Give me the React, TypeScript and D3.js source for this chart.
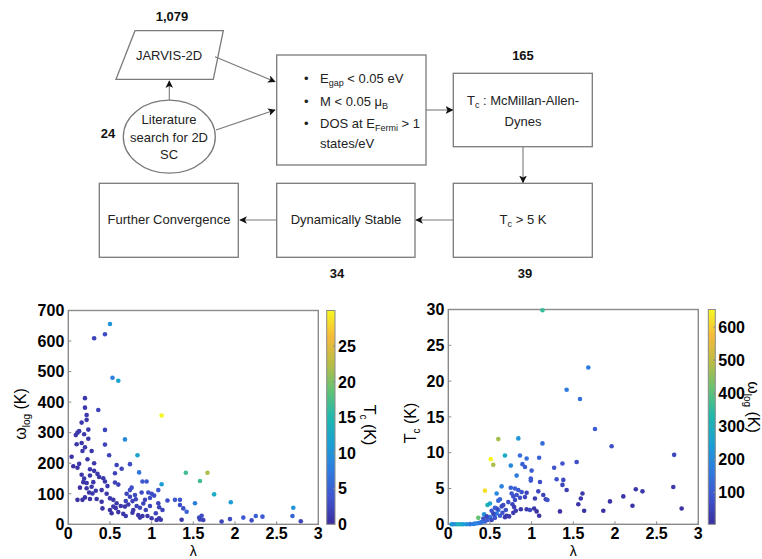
import React from 'react';
import * as d3 from 'd3';

// left panel: lambda vs omega_log, coloured by Tc
const lamA = [0.31, 0.44, 0.50, 0.53, 0.60, 0.20, 0.20, 0.36, 0.22, 1.12,
  0.22, 0.16, 0.11, 0.13, 0.09, 0.19, 0.24, 0.44, 0.68, 0.10,
  0.16, 0.20, 0.44, 0.83, 0.04, 0.17, 0.23, 0.49, 0.13, 0.31,
  0.58, 0.64, 0.74, 0.11, 0.26, 0.31, 0.16, 0.19, 0.26, 0.35,
  0.37, 0.56, 0.85, 1.41, 0.18, 0.22, 0.30, 0.42, 0.44, 0.56,
  0.89, 0.94, 1.12, 0.22, 0.28, 0.33, 0.40, 0.25, 0.29, 0.74,
  0.80, 0.88, 0.96, 1.08, 0.11, 0.17, 0.20, 0.26, 0.34, 0.40,
  0.54, 0.58, 0.69, 0.74, 0.77, 0.81, 0.90, 0.98, 1.03, 1.28,
  1.34, 0.41, 0.50, 0.54, 0.57, 0.68, 0.78, 0.86, 0.93, 1.09,
  1.13, 1.34, 1.38, 0.52, 0.66, 0.69, 0.77, 0.89, 0.95, 1.05,
  1.09, 1.11, 1.36, 0.86, 1.67, 1.58, 1.75, 1.95, 1.52, 1.42,
  1.57, 1.60, 1.62, 1.58, 1.84, 1.94, 2.10, 2.20, 2.25, 2.33,
  2.70, 2.69, 2.79, 1.19, 1.08, 1.06, 1.00, 0.47, 0.60, 0.63,
  0.72, 0.82, 0.84, 0.70, 0.76, 0.60, 0.46, 0.50, 0.14, 0.06,
  0.28, 0.24, 0.98, 1.00, 0.92];
const omegaA = [609, 622, 656, 480, 470, 413, 382, 374, 358, 356,
  342, 333, 300, 305, 292, 295, 280, 309, 278, 262,
  266, 252, 261, 226, 221, 240, 213, 226, 198, 200,
  194, 182, 197, 185, 180, 175, 162, 150, 160, 165,
  155, 167, 170, 169, 138, 135, 138, 151, 140, 137,
  140, 140, 131, 118, 123, 110, 112, 104, 101, 112,
  96, 104, 104, 112, 80, 80, 88, 83, 83, 74,
  80, 69, 76, 90, 76, 82, 68, 86, 94, 80,
  80, 52, 47, 58, 53, 58, 47, 54, 47, 56,
  47, 63, 52, 36, 34, 27, 38, 27, 27, 36,
  20, 15, 15, 22, 169, 142, 98, 72, 69, 41,
  22, 28, 14, 16, 9, 17, 22, 13, 27, 25,
  54, 27, 10, 78, 69, 14, 100, 125, 40, 60,
  65, 60, 30, 100, 120, 130, 100, 85, 120, 190,
  240, 310, 60, 20, 80];
const tcA = [2, 3, 10, 8, 12, 1, 1, 2, 1, 29.9,
  1, 1, 1, 1, 1, 1, 1, 2, 9, 1,
  1, 1, 2, 12, 0.5, 1, 1, 2, 1, 1,
  2, 2, 3, 0.5, 1, 1, 1, 1, 1, 1,
  1, 2, 7, 17, 0.5, 1, 1, 1, 1, 2,
  4, 4, 11, 0.5, 1, 1, 1, 0.5, 1, 3,
  3, 3, 3, 4, 0.3, 0.5, 0.5, 0.5, 0.5, 0.5,
  1, 1, 2, 2, 2, 2, 2, 3, 3, 4,
  4, 0.5, 0.5, 1, 1, 1, 1, 2, 2, 2,
  2, 3, 3, 0.5, 1, 1, 1, 1, 1, 2,
  1, 1, 1, 1, 22, 17, 13, 11, 8, 5,
  3, 3, 2, 2, 2, 3, 4, 3, 5, 4,
  10, 5, 2, 3, 2, 1, 3, 1, 0.5, 1,
  1, 2, 1, 2, 3, 2, 1, 1, 0.3, 0.3,
  1, 1, 2, 1, 2];

// right panel: lambda vs Tc, coloured by omega_log
const lamB = [1.13, 1.68, 1.42, 1.58, 1.76, 1.96, 0.60, 0.84, 1.13, 0.68,
  0.51, 0.54, 0.86, 0.94, 0.89, 0.92, 1.09, 1.00, 0.99, 0.99,
  0.82, 0.75, 1.27, 1.30, 1.37, 1.54, 1.38, 1.37, 1.42, 1.10,
  0.64, 0.44, 0.58, 1.61, 1.59, 1.56, 1.63, 1.34, 1.86, 1.94,
  2.10, 2.21, 2.25, 2.33, 2.70, 2.71, 2.80, 1.08, 1.14, 1.04,
  1.17, 0.94, 0.94, 0.87, 1.03, 1.06, 1.09, 0.76, 0.78, 0.80,
  0.82, 0.77, 0.79, 0.81, 0.78, 0.84, 0.86, 0.75, 0.80, 0.88,
  0.72, 0.70, 0.68, 0.73, 0.47, 0.50, 0.36, 0.43, 0.50, 0.55,
  0.58, 0.60, 0.62, 0.65, 0.56, 0.52, 0.47, 0.44, 0.40, 0.38,
  0.35, 0.32, 0.30, 0.26, 0.22, 0.18, 0.15, 0.12, 0.09, 0.06,
  0.04, 0.42, 0.46, 0.54, 0.58, 0.60, 0.62, 0.64, 0.66, 0.69,
  0.56, 0.52, 1.19, 0.98, 0.92];
const tcB = [29.9, 21.9, 18.8, 17.5, 13.3, 10.9, 11.9, 12.0, 11.3, 9.6,
  9.1, 8.3, 9.6, 9.2, 8.4, 8.0, 9.3, 7.5, 6.4, 6.1,
  6.8, 8.2, 7.9, 6.3, 8.5, 8.7, 6.2, 5.5, 4.8, 5.9,
  5.3, 4.7, 4.3, 4.3, 3.6, 2.8, 1.9, 1.8, 1.9, 3.2,
  3.9, 2.6, 4.9, 4.6, 5.2, 9.7, 2.2, 4.6, 4.1, 3.6,
  3.5, 4.4, 2.1, 2.1, 2.2, 1.8, 1.2, 4.3, 3.9, 3.4,
  4.1, 2.8, 2.4, 1.9, 1.6, 4.8, 3.7, 5.1, 5.0, 4.5,
  3.1, 1.2, 1.0, 1.1, 2.7, 2.9, 0.9, 1.4, 1.0, 1.3,
  1.5, 2.0, 1.2, 1.6, 0.9, 0.6, 0.6, 0.4, 0.3, 0.2,
  0.15, 0.1, 0.05, 0.02, 0.01, 0, 0, 0, 0, 0,
  0, 0.8, 1.1, 1.5, 2.2, 3.3, 3.5, 2.5, 2.7, 2.0,
  2.3, 1.9, 3.4, 2.0, 3.8];
const omegaB = [356, 169, 169, 142, 98, 72, 472, 226, 131, 278,
  655, 480, 140, 140, 112, 104, 112, 100, 86, 94,
  170, 197, 80, 78, 80, 69, 63, 52, 41, 69,
  182, 622, 194, 28, 22, 16, 14, 15, 9, 17,
  22, 13, 27, 25, 27, 54, 10, 56, 47, 36,
  40, 47, 27, 22, 20, 14, 15, 90, 76, 60,
  82, 47, 38, 30, 30, 96, 68, 112, 104, 80,
  76, 27, 30, 34, 309, 261, 413, 226, 150, 140,
  167, 137, 100, 80, 80, 58, 100, 112, 151, 140,
  165, 200, 175, 160, 213, 240, 266, 300, 292, 190,
  221, 74, 52, 47, 36, 130, 125, 60, 58, 76,
  100, 80, 78, 60, 54];

const lamTicks = [0, 0.5, 1, 1.5, 2, 2.5, 3];
const omegaTicks = [0, 100, 200, 300, 400, 500, 600, 700];
const tcTicks = [0, 5, 10, 15, 20, 25, 30];
const tcBarTicks = [0, 5, 10, 15, 20, 25];
const omegaBarTicks = [100, 200, 300, 400, 500, 600];

// parula-like colormap
const parula = ['#3B2E9E', '#3F55D0', '#2E7BE0', '#1AA0D4', '#1FB8AE', '#62C275', '#B8BD45', '#F5BA3A', '#F6F720'];
const FONT = '"Liberation Sans", Arial, Helvetica, sans-serif';

function paru(domain: [number, number]) {
  const stops = parula.map((_, i) => domain[0] + (domain[1] - domain[0]) * i / (parula.length - 1));
  return d3.scaleLinear<string>().domain(stops).range(parula).interpolate(d3.interpolateRgb).clamp(true);
}

type Props = {
  id: string;
  left: number; right: number; top: number; bottom: number;
  xs: number[]; ys: number[]; cs: number[];
  yMax: number; yTicks: number[];
  cDomain: [number, number]; cTicks: number[];
  barX: number; barW: number;
  yLabel: React.ReactNode; yLabelX: number; yLabelY: number;
  cLabel: React.ReactNode; cLabelX: number; cLabelY: number;
};

function Scatter(p: Props) {
  const x = d3.scaleLinear().domain([0, 3]).range([p.left, p.right]);
  const y = d3.scaleLinear().domain([0, p.yMax]).range([p.bottom, p.top]);
  const cy = d3.scaleLinear().domain(p.cDomain).range([p.bottom, p.top]);
  const color = paru(p.cDomain);
  const fmt = d3.format('');
  const frame = '#8a8a8a';
  return (
    <g fontFamily={FONT}>
      <defs>
        <linearGradient id={p.id} x1="0" y1="1" x2="0" y2="0">
          {parula.map((c, i) => <stop key={i} offset={i / (parula.length - 1)} stopColor={c} />)}
        </linearGradient>
      </defs>
      <rect x={p.left} y={p.top} width={p.right - p.left} height={p.bottom - p.top} fill="#fff" stroke={frame} strokeWidth={1.4} />
      {lamTicks.map(t => (
        <g key={'x' + t}>
          <line x1={x(t)} x2={x(t)} y1={p.bottom} y2={p.bottom - 3} stroke={frame} />
          <text x={x(t)} y={p.bottom + 15} textAnchor="middle" fontSize={16} fontWeight="bold">{fmt(t)}</text>
        </g>
      ))}
      {p.yTicks.map(t => (
        <g key={'y' + t}>
          <line x1={p.left} x2={p.left + 3} y1={y(t)} y2={y(t)} stroke={frame} />
          <text x={p.left - 4} y={y(t)} dy="0.36em" textAnchor="end" fontSize={16} fontWeight="bold">{fmt(t)}</text>
        </g>
      ))}
      {p.xs.map((v, i) => (
        <circle key={i} cx={x(v)} cy={y(p.ys[i])} r={2.3} fill={color(p.cs[i])} />
      ))}
      <text x={(p.left + p.right) / 2} y={p.bottom + 31.5} textAnchor="middle" fontSize={14}>λ</text>
      <text transform={`translate(${p.yLabelX},${p.yLabelY}) rotate(-90)`} textAnchor="middle" fontSize={16}>{p.yLabel}</text>
      <rect x={p.barX} y={p.top} width={p.barW} height={p.bottom - p.top} fill={`url(#${p.id})`} stroke={frame} strokeWidth={1} />
      {p.cTicks.map(t => (
        <g key={'c' + t}>
          <line x1={p.barX + p.barW} x2={p.barX + p.barW - 2} y1={cy(t)} y2={cy(t)} stroke={frame} />
          <text x={p.barX + p.barW + 3} y={cy(t)} dy="0.36em" fontSize={16} fontWeight="bold">{fmt(t)}</text>
        </g>
      ))}
      <text transform={`translate(${p.cLabelX},${p.cLabelY}) rotate(90)`} textAnchor="middle" fontSize={16}>{p.cLabel}</text>
    </g>
  );
}

function Flow() {
  const stroke = '#7a7a7a';
  const txt = '#222';
  return (
    <g fontFamily={FONT} fontSize={13} fill={txt}>
      <defs>
        <marker id="ah" viewBox="0 0 10 10" refX="9" refY="5" markerWidth="7" markerHeight="7" orient="auto">
          <path d="M0,0 L10,5 L0,10 L2.5,5 z" fill="#111" />
        </marker>
      </defs>
      <g stroke={stroke} strokeWidth={1.3} fill="none">
        <polygon points="135,30.7 223.3,30.7 213.3,79.3 116,79.3" />
        <ellipse cx={169.3} cy={136.7} rx={46} ry={36.5} />
        <rect x={276.7} y={55} width={149.3} height={110} />
        <rect x={453.3} y={73.3} width={139} height={73.4} />
        <rect x={453.3} y={183.3} width={139} height={74} />
        <rect x={276.7} y={183.3} width={138.3} height={74} />
        <rect x={99.3} y={183.3} width={139} height={74} />
      </g>
      <g stroke={stroke} strokeWidth={1.1} fill="none">
        <line x1={169.3} y1={100} x2={169.3} y2={81} markerEnd="url(#ah)" />
        <line x1={215} y1={56.7} x2={275} y2={81.7} markerEnd="url(#ah)" />
        <line x1={216} y1={130} x2={275} y2={110} markerEnd="url(#ah)" />
        <line x1={426} y1={110} x2={452.5} y2={110} markerEnd="url(#ah)" />
        <line x1={523} y1={146.7} x2={523} y2={182.5} markerEnd="url(#ah)" />
        <line x1={453.3} y1={220} x2={416} y2={220} markerEnd="url(#ah)" />
        <line x1={276.7} y1={220} x2={240} y2={220} markerEnd="url(#ah)" />
      </g>
      <g fontWeight="bold" textAnchor="middle" fill="#111">
        <text x={172} y={21}>1,079</text>
        <text x={523} y={60}>165</text>
        <text x={108} y={138}>24</text>
        <text x={337} y={278}>34</text>
        <text x={525} y={278}>39</text>
      </g>
      <g textAnchor="middle">
        <text x={169} y={60}>JARVIS-2D</text>
        <text x={169} y={124}>Literature</text>
        <text x={169} y={141.5}>search for 2D</text>
        <text x={169} y={159}>SC</text>
        <text x={523} y={105}>T<tspan fontSize={9} dy={3}>c</tspan><tspan dy={-3}> : McMillan-Allen-</tspan></text>
        <text x={523} y={126}>Dynes</text>
        <text x={523} y={224}>T<tspan fontSize={9} dy={3}>c</tspan><tspan dy={-3}> &gt; 5 K</tspan></text>
        <text x={346} y={224}>Dynamically Stable</text>
        <text x={169} y={224}>Further Convergence</text>
      </g>
      <g>
        <text x={304} y={83}>•</text>
        <text x={320} y={83}>E<tspan fontSize={9} dy={3}>gap</tspan><tspan dy={-3}> &lt; 0.05 eV</tspan></text>
        <text x={304} y={106}>•</text>
        <text x={320} y={106}>M &lt; 0.05 μ<tspan fontSize={9} dy={3}>B</tspan></text>
        <text x={304} y={128}>•</text>
        <text x={320} y={128}>DOS at E<tspan fontSize={9} dy={3}>Fermi</tspan><tspan dy={-3}> &gt; 1</tspan></text>
        <text x={320} y={148}>states/eV</text>
      </g>
    </g>
  );
}

export default function App() {
  return (
    <svg width={762} height={559} style={{ position: 'absolute', left: 0, top: 0, background: '#fff' }}>
      <rect width={762} height={559} fill="#fff" />
      <Flow />
      <Scatter id="gA" left={68.3} right={318.3} top={310.5} bottom={524.3}
        xs={lamA} ys={omegaA} cs={tcA} yMax={700} yTicks={omegaTicks}
        cDomain={[0, 30]} cTicks={tcBarTicks} barX={326.7} barW={8.3}
        yLabel={<>ω<tspan fontSize={10} dy={4}>log</tspan><tspan dy={-4}> (K)</tspan></>} yLabelX={26} yLabelY={414}
        cLabel={<>T<tspan fontSize={10} dy={4}>c</tspan><tspan dy={-4}> (K)</tspan></>} cLabelX={364} cLabelY={425} />
      <Scatter id="gB" left={448.3} right={698.3} top={309.5} bottom={524.3}
        xs={lamB} ys={tcB} cs={omegaB} yMax={30} yTicks={tcTicks}
        cDomain={[4, 653]} cTicks={omegaBarTicks} barX={708.3} barW={7}
        yLabel={<>T<tspan fontSize={10} dy={4}>c</tspan><tspan dy={-4}> (K)</tspan></>} yLabelX={416} yLabelY={423}
        cLabel={<>ω<tspan fontSize={10} dy={4}>log</tspan><tspan dy={-4}> (K)</tspan></>} cLabelX={748} cLabelY={407} />
    </svg>
  );
}
